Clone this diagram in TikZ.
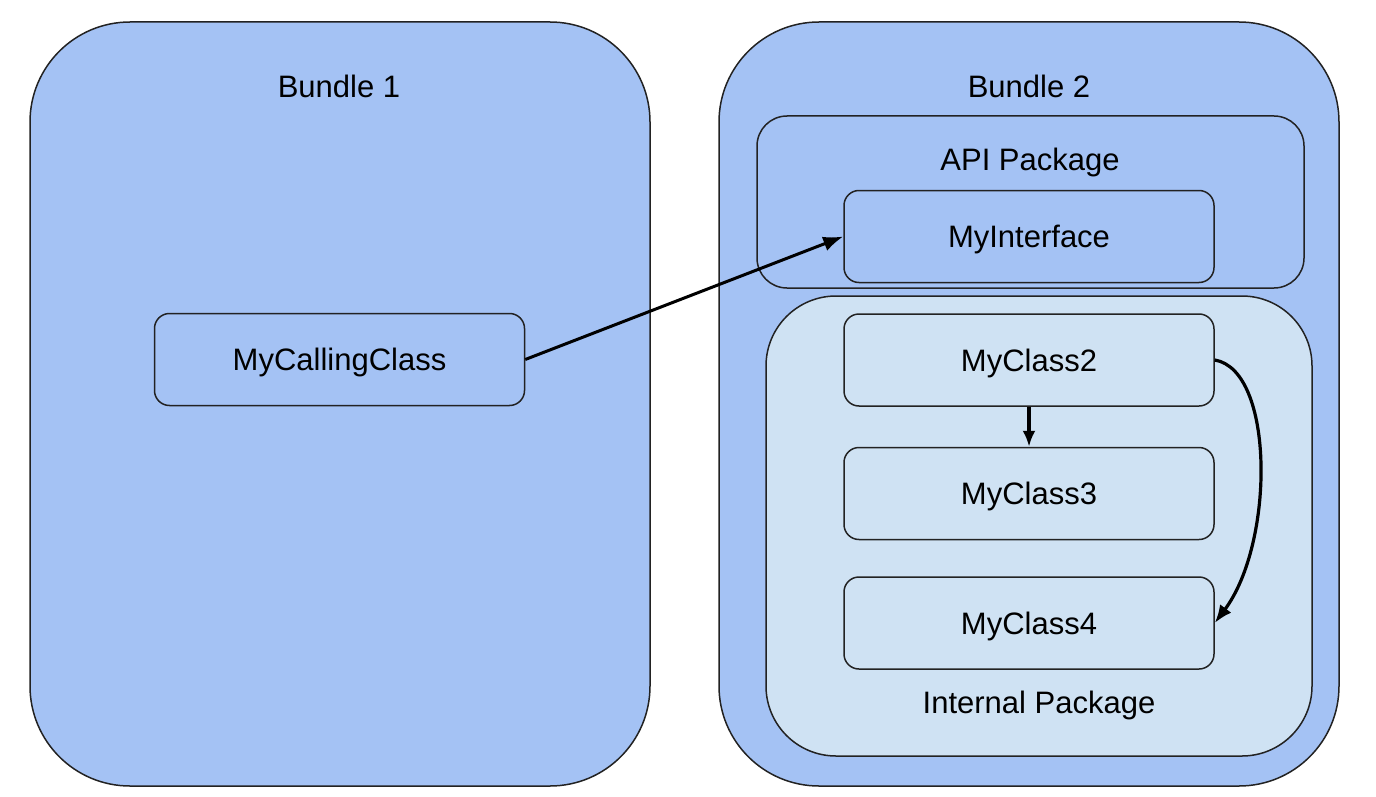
\documentclass[tikz,border=0pt]{standalone}
\usepackage{fontspec}
\setmainfont{Liberation Sans}
\usetikzlibrary{arrows.meta}
\definecolor{bundleblue}{HTML}{A4C2F4}
\definecolor{pkgblue}{HTML}{CFE2F3}
\definecolor{linegray}{HTML}{222222}
\begin{document}
\begin{tikzpicture}[x=1pt,y=-1pt]
    \tikzset{bundle/.style = {shape=rectangle,draw=linegray,fill=bundleblue,line width=1.5pt,rounded corners=100pt,minimum width=620pt,minimum height=764pt}}
    \tikzset{package/.style = {shape=rectangle,draw=linegray,line width=1.5pt}}
    \tikzset{cls/.style = {shape=rectangle,draw=linegray,line width=1.5pt,rounded corners=15pt,minimum width=370pt,minimum height=92pt,font=\fontsize{31}{36}\selectfont,text height=22pt,text depth=0pt}}
    \tikzset{title/.style = {font=\fontsize{31}{36}\selectfont,inner sep=0pt,text height=22pt,text depth=0pt}}
    \tikzset{edge/.style = {-{Latex[length=20pt,width=15pt]},line width=3pt}}
    \useasboundingbox (0,0) rectangle (1376,797);
    \node[bundle] (b1) at (340,404) {};
    \node[bundle] (b2) at (1029,404) {};
    \node[package,fill=bundleblue,rounded corners=30pt,minimum width=547pt,minimum height=172pt] (api) at (1030.5,202) {};
    \node[package,fill=pkgblue,rounded corners=70pt,minimum width=546pt,minimum height=460pt] (internal) at (1039,526) {};
    \node[title] (b1label) at (339,87) {Bundle 1};
    \node[title] (b2label) at (1029,87) {Bundle 2};
    \node[title] (apilabel) at (1030,159) {API Package};
    \node[title] (intlabel) at (1039,702) {Internal Package};
    \node[cls,fill=bundleblue] (calling) at (339.5,359.5) {MyCallingClass};
    \node[cls,fill=bundleblue] (iface) at (1029,236.5) {MyInterface};
    \node[cls,fill=pkgblue] (c2) at (1029,360) {MyClass2};
    \node[cls,fill=pkgblue] (c3) at (1029,493.5) {MyClass3};
    \node[cls,fill=pkgblue] (c4) at (1029,623) {MyClass4};
    \draw[edge] (calling.east) to (iface.west);
    \draw[-{Latex[length=16pt,width=13pt]},line width=3.2pt] (c2) to (c3);
    \draw[-{Latex[length=18pt,width=14pt]},line width=3.2pt] (c2.east) .. controls +(60,10) and +(60,-80) .. (c4.east);
\end{tikzpicture}
\end{document}
